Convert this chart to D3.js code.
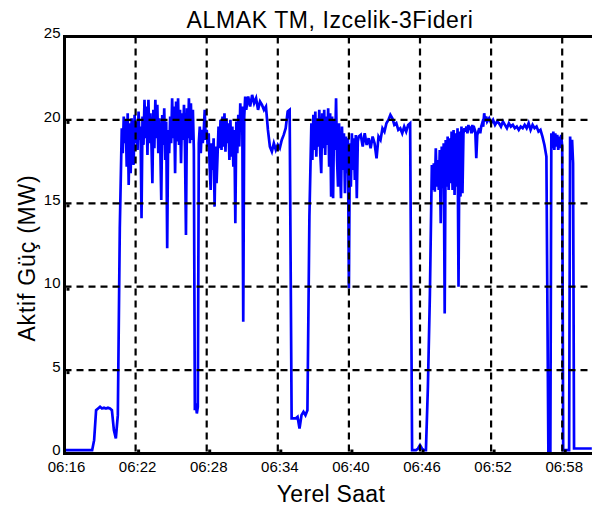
<!DOCTYPE html>
<html>
<head>
<meta charset="utf-8">
<script src="https://cdn.jsdelivr.net/npm/d3@7"></script>
<style>
  body { margin: 0; background: #fff; }
  svg { display: block; font-family: "Liberation Sans", Arial, sans-serif; }
</style>
</head>
<body>
<div id="chart"></div>
<script>
const chartTitle = "ALMAK TM, Izcelik-3Fideri";
const xTitle = "Yerel Saat";
const yTitle = "Aktif Güç (MW)";

const xTickLabels = ["06:16", "06:22", "06:28", "06:34", "06:40", "06:46", "06:52", "06:58"];
const yTickValues = [0, 5, 10, 15, 20, 25];
const axisStart = "06:16:00";
const axisEnd = "07:00:41";

// active power (MW); each block is logged from its start time at a fixed step (s)
const idleStart = "06:16:00", idleStep = 10;
const idle = [
  0.2, 0.2, 0.2, 0.2, 0.2, 0.2, 0.2, 0.2, 0.2, 0.2, 0.2, 0.2, 0.2, 0.2, 0.2,
  0.8,
  2.6, 2.7, 2.8, 2.7, 2.75, 2.7, 2.75, 2.7,
  2.6, 1.4, 0.9, 2.3, 13.5
];

const meltAStart = "06:20:50", meltAStep = 5;
const meltA = [
  19.5, 18.0, 20.2, 18.6, 20.0, 17.2, 20.4, 16.1, 19.8, 16.8,
  20.1, 18.4, 17.3, 20.3, 18.6, 19.9, 18.2, 20.5, 18.8, 19.6,
  14.1, 20.2, 18.5, 21.2, 18.9, 20.8, 17.9, 21.2, 18.6, 20.4,
  18.7, 16.2, 20.6, 18.3, 21.2, 18.9, 20.9, 18.0, 20.1, 18.4,
  15.2, 20.3, 18.5, 20.7, 17.6, 19.9, 12.3, 19.4, 18.0, 20.2,
  18.6, 21.3, 18.9, 20.8, 16.8, 21.1, 18.7, 21.3, 18.5, 20.6,
  17.4, 20.4, 18.8, 20.9, 18.3, 13.1, 20.7, 18.9, 21.3, 18.6,
  21.0, 18.8, 20.6, 18.2, 2.6, 3.0, 2.4, 2.8, 18.6, 19.6,
  18.0, 19.4, 18.6, 19.3, 20.6, 18.8, 19.4, 18.4, 19.2, 17.2,
  15.8, 18.6, 17.0, 18.9, 14.8, 18.4, 16.2, 17.9, 19.6, 18.3,
  20.0, 18.2, 20.2, 18.4, 20.4, 18.1, 20.1, 18.6, 19.8, 17.6,
  20.0, 17.8, 19.6, 17.2, 19.4, 13.8, 19.9, 18.0, 20.3, 18.4,
  21.0, 19.6, 20.8, 7.9, 20.2, 21.4, 20.6
];

const refineAStart = "06:31:30", refineAStep = 10;
const refineA = [
  21.4, 20.8, 21.5, 21.0, 21.3, 20.6,
  21.1, 20.9, 20.6, 20.8, 19.4, 18.4, 18.1, 18.6, 18.2, 18.5,
  18.3, 18.8, 19.1, 19.5, 20.5, 20.6,
  2.1, 2.1, 2.1, 2.2, 1.5, 2.3, 2.5, 2.3, 2.6, 14.2
];

const meltBStart = "06:36:50", meltBStep = 5;
const meltB = [
  19.8, 17.6, 20.3, 18.2, 20.5, 17.8, 20.1, 18.4, 20.6, 18.0,
  16.8, 20.4, 18.3, 20.6, 17.9, 20.2, 18.5, 20.7, 17.2, 20.4,
  15.4, 20.2, 15.3, 20.0, 18.2, 21.3, 17.6, 16.0, 19.8, 17.4,
  15.3, 19.6, 17.0, 19.2, 15.6, 19.0, 16.8, 18.9, 9.9, 18.6,
  16.0, 19.2, 17.0, 18.9, 16.4, 19.1, 15.3, 18.7, 19.0
];

const refineBStart = "06:41:00", refineBStep = 10;
const refineB = [
  19.1, 18.4, 19.2, 18.5, 18.9, 18.3, 19.0, 18.6, 17.7, 19.0, 18.8, 19.5, 19.3, 19.8, 20.0,
  20.3, 20.1, 19.7, 19.8, 19.4, 19.5, 19.2, 19.6, 19.3, 19.7, 19.8,
  0.2, 0.2, 0.2, 0.3, 0.5, 0.3, 0.2, 0.2, 4.0, 9.5, 17.3
];

const meltCStart = "06:47:05", meltCStep = 5;
const meltC = [
  15.8, 17.4, 15.7, 18.3, 16.0, 17.6, 15.8, 18.2, 13.8, 18.4,
  15.9, 18.6, 8.4, 18.8, 16.0, 19.0, 15.8, 18.9, 16.2, 19.3,
  15.8, 19.4, 15.5, 19.2, 16.0, 19.5, 10.0, 19.3, 15.4, 19.6,
  15.6, 19.2, 19.5, 19.3, 19.6, 19.2, 19.7, 19.4, 19.6, 19.2,
  19.7, 19.4, 19.5, 19.3, 17.7, 19.1, 19.3, 19.5, 19.2, 19.6,
  19.8, 19.6, 20.4, 19.9, 20.2, 19.9
];

const refineCStart = "06:51:50", refineCStep = 10;
const refineC = [
  20.1, 19.8, 20.0, 19.7, 19.9, 19.8, 19.6, 19.9, 19.7, 19.5,
  19.8, 19.6, 19.7, 19.5, 19.6, 19.4, 19.6, 19.5, 19.7, 19.5,
  19.8, 19.4, 19.7, 19.5, 19.6, 19.3, 19.4, 19.0, 18.5, 17.8
];

const tripStart = "06:56:50", tripStep = 5;
const trip = [
  0.1, 0.1, 0.1, 19.2, 18.3, 19.3, 18.2, 19.2, 18.4, 19.1,
  18.2, 19.0, 18.3, 19.1, 18.4, 0.2, 0.2, 0.2, 0.2, 0.2,
  0.2, 0.2, 19.0, 17.6, 18.8, 17.4, 0.3, 0.3, 0.3, 0.3,
  0.3, 0.3, 0.3, 0.3, 0.3, 0.3, 0.3, 0.3, 0.3, 0.3,
  0.3, 0.3, 0.3, 0.3, 0.3
];

const width = 592;
const height = 514;
const plot = { left: 64.5, right: 594, top: 36.5, bottom: 453.5 };

const parseSec = d3.timeParse("%H:%M:%S");
const parseMin = d3.timeParse("%H:%M");

const blocks = [
  [idleStart, idleStep, idle],
  [meltAStart, meltAStep, meltA],
  [refineAStart, refineAStep, refineA],
  [meltBStart, meltBStep, meltB],
  [refineBStart, refineBStep, refineB],
  [meltCStart, meltCStep, meltC],
  [refineCStart, refineCStep, refineC],
  [tripStart, tripStep, trip]
];

const series = blocks.flatMap(([start, step, values]) => {
  const t0 = parseSec(start);
  return values.map((v, i) => ({ t: d3.timeSecond.offset(t0, i * step), v }));
});

const x = d3.scaleTime()
  .domain([parseSec(axisStart), parseSec(axisEnd)])
  .range([plot.left, plot.right]);

const y = d3.scaleLinear()
  .domain([0, 25])
  .range([plot.bottom, plot.top]);

const xTicks = xTickLabels.map(parseMin);

const svg = d3.select("#chart")
  .append("svg")
  .attr("width", width)
  .attr("height", height);

svg.append("rect")
  .attr("width", width)
  .attr("height", height)
  .attr("fill", "#fff");

svg.append("clipPath")
  .attr("id", "plot-clip")
  .append("rect")
  .attr("x", plot.left)
  .attr("y", plot.top)
  .attr("width", plot.right - plot.left)
  .attr("height", plot.bottom - plot.top);

// power trace
svg.append("path")
  .datum(series)
  .attr("clip-path", "url(#plot-clip)")
  .attr("fill", "none")
  .attr("stroke", "#0000ff")
  .attr("stroke-width", 2.7)
  .attr("stroke-linejoin", "miter")
  .attr("d", d3.line().x(d => x(d.t)).y(d => y(d.v)));

// dashed grid, drawn over the trace
const grid = svg.append("g")
  .attr("stroke", "#000")
  .attr("stroke-width", 2.2)
  .attr("stroke-dasharray", "7,5");

grid.selectAll("line.vx")
  .data(xTicks.slice(1))
  .join("line")
  .attr("x1", d => x(d))
  .attr("x2", d => x(d))
  .attr("y1", plot.top)
  .attr("y2", plot.bottom);

grid.selectAll("line.hy")
  .data(yTickValues.slice(1, -1))
  .join("line")
  .attr("x1", plot.left)
  .attr("x2", plot.right)
  .attr("y1", d => y(d))
  .attr("y2", d => y(d));

// small inward tick marks
svg.append("g")
  .selectAll("rect")
  .data(xTicks.slice(1))
  .join("rect")
  .attr("x", d => x(d) + 1.5)
  .attr("y", plot.bottom - 4)
  .attr("width", 3)
  .attr("height", 3)
  .attr("fill", "#000");

svg.append("g")
  .selectAll("rect")
  .data(yTickValues.slice(1, -1))
  .join("rect")
  .attr("x", plot.left + 2)
  .attr("y", d => y(d) + 1)
  .attr("width", 3)
  .attr("height", 3)
  .attr("fill", "#000");

// axes frame
svg.append("path")
  .attr("fill", "none")
  .attr("stroke", "#000")
  .attr("stroke-width", 3)
  .attr("d", `M${plot.right},${plot.top}H${plot.left}V${plot.bottom}H${plot.right}`);

// tick labels
const xAxis = svg.append("g")
  .attr("transform", `translate(0,${plot.bottom})`)
  .call(d3.axisBottom(x).tickValues(xTicks).tickFormat(d3.timeFormat("%H:%M")).tickSize(0).tickPadding(7.5));
xAxis.select(".domain").remove();
xAxis.selectAll("text")
  .attr("dx", 1.5)
  .attr("font-size", 15)
  .attr("font-family", "'Liberation Sans', Arial, sans-serif")
  .attr("fill", "#000");

const yAxis = svg.append("g")
  .attr("transform", `translate(${plot.left},0)`)
  .call(d3.axisLeft(y).tickValues(yTickValues).tickSize(0).tickPadding(4));
yAxis.select(".domain").remove();
yAxis.selectAll("text")
  .attr("y", -3.6)
  .attr("font-size", 15)
  .attr("font-family", "'Liberation Sans', Arial, sans-serif")
  .attr("fill", "#000");

// titles
svg.append("text")
  .attr("x", 330)
  .attr("y", 28)
  .attr("text-anchor", "middle")
  .attr("font-size", 23)
  .attr("letter-spacing", 0.6)
  .attr("fill", "#000")
  .text(chartTitle);

svg.append("text")
  .attr("x", 331)
  .attr("y", 502)
  .attr("text-anchor", "middle")
  .attr("font-size", 23)
  .attr("letter-spacing", 0.3)
  .attr("fill", "#000")
  .text(xTitle);

svg.append("text")
  .attr("transform", "translate(35,258) rotate(-90)")
  .attr("text-anchor", "middle")
  .attr("font-size", 23)
  .attr("letter-spacing", 0.8)
  .attr("fill", "#000")
  .text(yTitle);
</script>
</body>
</html>
